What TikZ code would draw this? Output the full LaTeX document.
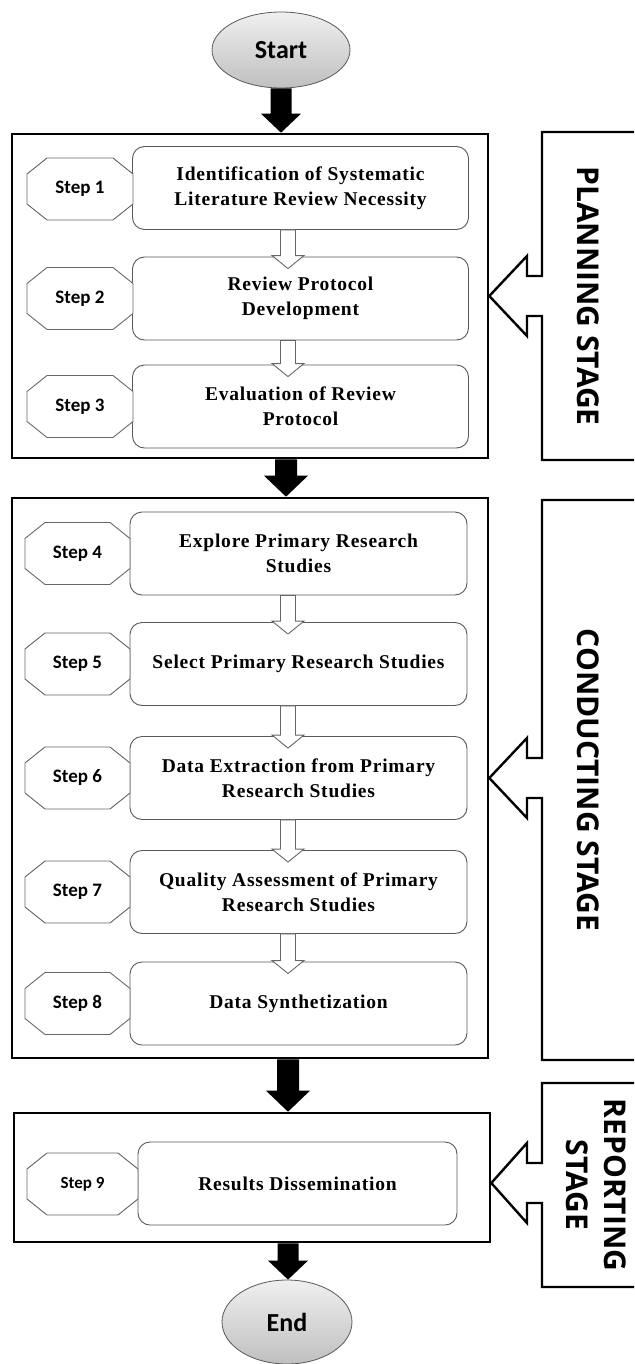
\documentclass[tikz,border=0pt]{standalone}
\usepackage{fontspec}
\setmainfont{Liberation Serif}
\newfontfamily\califont{Carlito}
\newfontfamily\stagefont{Open Sans}
\newfontfamily\boxfont[LetterSpace=4]{Liberation Serif}
\usetikzlibrary{calc,shapes.geometric}
\tikzset{
  outerbox/.style={draw=black, line width=2.6pt, inner sep=0pt},
  stepbox/.style={draw=black!65, line width=0.9pt, rounded corners=12pt, fill=white,
    align=center, inner sep=0pt, minimum width=336pt, minimum height=83pt,
    font=\boxfont\fontsize{19.5}{25}\selectfont\bfseries},
  octline/.style={draw=black!60, line width=0.9pt, fill=white},
  steplbl/.style={inner sep=0pt, font=\califont\fontsize{17}{20}\selectfont\bfseries},
  terminal/.style={ellipse, draw=black!65, line width=0.8pt, top color=white!94!black,
    bottom color=black!25, inner sep=0pt, font=\califont\fontsize{26}{30}\selectfont\bfseries},
  stageline/.style={draw=black, line width=2.4pt, line join=miter},
  stagelbl/.style={rotate=-90, align=center, inner sep=0pt,
    font=\stagefont\fontsize{30}{38}\selectfont\bfseries},
  blackarrow/.style={fill=black},
  hollowarrow/.style={fill=white, draw=black!60, line width=0.9pt}
}
% block arrow pointing down: style, from, to, half shaft, half head, head length
\newcommand{\blockarr}[6]{%
  \path[#1] let \p1=#2, \p2=#3 in
    (\x1-#4pt,\y1) -- (\x1+#4pt,\y1) -- (\x1+#4pt,\y2+#6pt) -- (\x1+#5pt,\y2+#6pt)
    -- (\x1,\y2) -- (\x1-#5pt,\y2+#6pt) -- (\x1-#4pt,\y2+#6pt) -- cycle;}
% octagon label: name, cx, cy, half width, half height, text, font size
\newcommand{\octolabel}[7]{%
  \path[octline] (#2-#4+20,#3-#5) -- (#2+#4-20,#3-#5) -- (#2+#4,#3-#5+16) -- (#2+#4,#3+#5-16)
    -- (#2+#4-20,#3+#5) -- (#2-#4+20,#3+#5) -- (#2-#4,#3+#5-16) -- (#2-#4,#3-#5+16) -- cycle;
  \node[steplbl, font=\califont\fontsize{#7}{#7}\selectfont\bfseries] (#1) at (#2,#3) {#6};}
\begin{document}
\begin{tikzpicture}[x=1pt,y=-1pt]
\useasboundingbox (0,0) rectangle (634,1364);
\clip (0,0) rectangle (634,1364);
\fill[white] (0,0) rectangle (634,1364);

% stage outer boxes
\node[outerbox, minimum width=476pt, minimum height=324pt] (P) at (250,296) {};
\node[outerbox, minimum width=476pt, minimum height=560pt] (C) at (250,778) {};
\node[outerbox, minimum width=476pt, minimum height=129pt] (R) at (252,1177.5) {};

% stage label boxes with left-pointing arrows
\path[stageline] (660,132) -- (542,132) -- (542,276) -- (527,276) -- (527,256)
  -- (P.east) -- (527,336) -- (527,316) -- (542,316) -- (542,460) -- (660,460);
\node[stagelbl] (pl) at (588,296) {PLANNING STAGE};
\path[stageline] (660,500) -- (542,500) -- (542,758) -- (527,758) -- (527,738)
  -- (C.east) -- (527,818) -- (527,798) -- (542,798) -- (542,1060) -- (660,1060);
\node[stagelbl] (cl) at (588,780) {CONDUCTING STAGE};
\coordinate (rtip) at ($(R.east)+(0,5.5)$);
\path[stageline] (660,1083) -- (542,1083) -- (542,1163) -- (527,1163) -- (527,1143)
  -- (rtip) -- (527,1223) -- (527,1203) -- (542,1203) -- (542,1287) -- (660,1287);
\node[stagelbl] (rl) at (596,1185) {REPORTING\\STAGE};

% step boxes
\node[stepbox] (b1) at (300.5,188) {Identification of Systematic\\Literature Review Necessity};
\node[stepbox] (b2) at (300.5,298.5) {Review Protocol\\Development};
\node[stepbox] (b3) at (300.5,406.5) {Evaluation of Review\\Protocol};
\node[stepbox, minimum width=337pt] (b4) at (298.5,553.5) {Explore Primary Research\\Studies};
\node[stepbox, minimum width=337pt] (b5) at (298.5,664) {Select Primary Research Studies};
\node[stepbox, minimum width=337pt] (b6) at (298.5,778) {Data Extraction from Primary\\Research Studies};
\node[stepbox, minimum width=337pt] (b7) at (298.5,892) {Quality Assessment of Primary\\Research Studies};
\node[stepbox, minimum width=337pt] (b8) at (298.5,1003.5) {Data Synthetization};
\node[stepbox, minimum width=319pt] (b9) at (297.5,1183.5) {Results Dissemination};

% step octagons
\octolabel{s1}{80}{189}{53}{31}{Step 1}{19}
\octolabel{s2}{80}{298.5}{53}{31}{Step 2}{19}
\octolabel{s3}{80}{406.5}{53}{31}{Step 3}{19}
\octolabel{s4}{77.5}{553.5}{52.5}{31}{Step 4}{19}
\octolabel{s5}{77.5}{664}{52.5}{31}{Step 5}{19}
\octolabel{s6}{77.5}{778}{52.5}{31}{Step 6}{19}
\octolabel{s7}{77.5}{892}{52.5}{31}{Step 7}{19}
\octolabel{s8}{77.5}{1003.5}{52.5}{31}{Step 8}{19}
\octolabel{s9}{82.5}{1184}{55.5}{31}{Step 9}{17}

% hollow arrows between steps
\blockarr{hollowarrow}{($(b1.south)+(-12.5,0)$)}{($(b2.north)+(-12.5,12)$)}{7.5}{16}{13}
\blockarr{hollowarrow}{($(b2.south)+(-12.5,0)$)}{($(b3.north)+(-12.5,12)$)}{7.5}{16}{13}
\blockarr{hollowarrow}{($(b4.south)+(-10.5,0)$)}{($(b5.north)+(-10.5,12)$)}{7.5}{16}{13}
\blockarr{hollowarrow}{($(b5.south)+(-10.5,0)$)}{($(b6.north)+(-10.5,12)$)}{7.5}{16}{13}
\blockarr{hollowarrow}{($(b6.south)+(-10.5,0)$)}{($(b7.north)+(-10.5,12)$)}{7.5}{16}{13}
\blockarr{hollowarrow}{($(b7.south)+(-10.5,0)$)}{($(b8.north)+(-10.5,12)$)}{7.5}{16}{13}

% start and end
\node[terminal, minimum width=138pt, minimum height=76pt] (start) at (281,50) {Start};
\node[terminal, minimum width=130pt, minimum height=84pt] (end) at (287,1322) {End};

% black arrows
\blockarr{blackarrow}{(start.south)}{(start.south |- P.north)}{10.5}{20}{19}
\blockarr{blackarrow}{($(P.south)+(36,0)$)}{($(C.north)+(36,0)$)}{11}{22}{21}
\blockarr{blackarrow}{($(C.south)+(38,0)$)}{($(R.north)+(36,0)$)}{11}{22}{21}
\blockarr{blackarrow}{($(R.south)+(36,0)$)}{(end.north)}{10.5}{20}{19}
\end{tikzpicture}
\end{document}
